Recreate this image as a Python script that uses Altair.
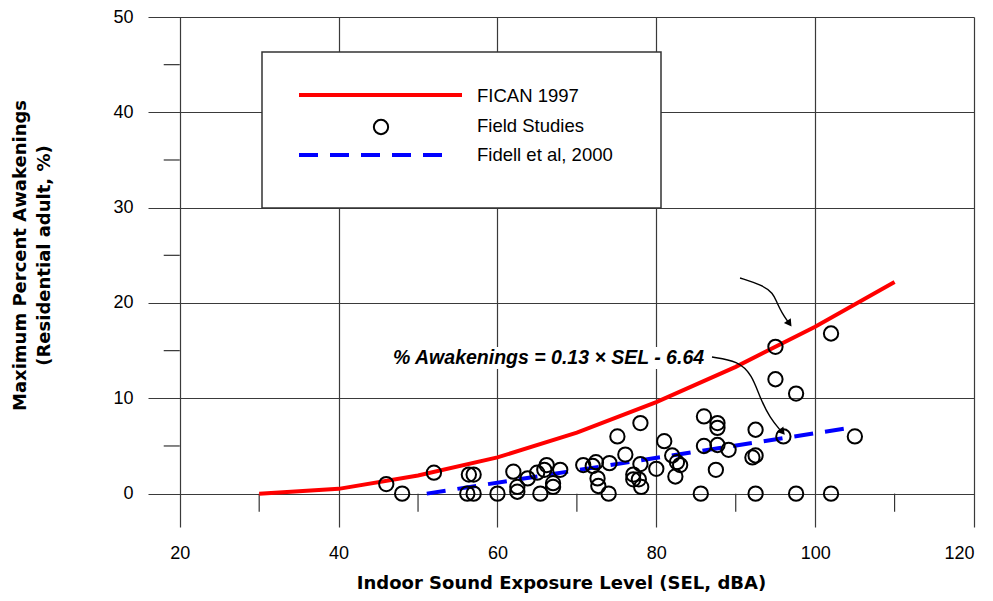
import altair as alt
import pandas as pd

# ---- data ----
fican_sel = [30, 40, 50, 60, 70, 80, 90, 100, 110]
fican_pct = [0.0, 0.5, 1.9, 3.8, 6.4, 9.6, 13.3, 17.5, 22.2]

fidell_sel = [51.1, 104.7]
fidell_pct = [0.0, 6.95]

field_sel = [46.0, 48.0, 52.0, 56.4, 57.0, 56.2, 57.0, 60.0, 62.0, 62.5,
             62.5, 63.8, 65.0, 66.2, 65.9, 65.4, 67.0, 67.0, 67.9, 70.8,
             72.0, 72.4, 72.6, 72.7, 74.0, 74.1, 75.1, 76.1, 77.1, 77.1,
             78.0, 78.0, 77.8, 78.1, 80.0, 81.0, 82.0, 82.6, 83.0, 82.4,
             86.0, 87.7, 87.7, 86.0, 87.7, 89.1, 87.5, 85.6, 92.5, 92.1,
             92.5, 92.5, 95.0, 95.0, 97.6, 96.0, 97.6, 102.0, 102.0, 105.0]
field_pct = [1.0, 0.0, 2.2, 2.0, 2.0, 0.0, 0.0, 0.0, 2.3, 0.7,
             0.2, 1.6, 2.2, 3.0, 2.5, 0.0, 0.7, 1.1, 2.5, 3.0,
             2.9, 3.3, 1.6, 0.8, 0.0, 3.2, 6.0, 4.1, 2.0, 1.5,
             7.4, 3.1, 1.5, 0.7, 2.6, 5.5, 4.0, 3.3, 3.0, 1.8,
             8.1, 7.4, 6.9, 5.0, 5.1, 4.6, 2.5, 0.0, 6.7, 3.8,
             4.0, 0.0, 15.4, 12.0, 10.5, 6.0, 0.0, 16.8, 0.0, 6.0]

x_major = [20, 40, 60, 80, 100, 120]
x_minor = [30, 50, 70, 90, 110]
y_major = [0, 10, 20, 30, 40, 50]
y_minor = [5, 15, 25, 35, 45]

# annotation arrow paths (data coordinates)
arrow1_sel = [90.54, 93.31, 94.70, 95.20, 95.83, 96.59]
arrow1_pct = [22.62, 21.89, 21.05, 20.0, 18.95, 18.01]
arrow2_sel = [87.01, 90.29, 92.05, 93.06, 94.32, 95.70]
arrow2_pct = [14.33, 13.91, 12.45, 10.03, 7.94, 6.57]
head_sel = [96.76, 95.88]
head_pct = [17.84, 6.46]
head_angle = [325, 320]

legend_labels = ["FICAN 1997", "Field Studies", "Fidell et al, 2000"]
equation = "% Awakenings = 0.13 \u00d7 SEL - 6.64"

# ---- tables ----
fican = pd.DataFrame({"sel": fican_sel, "pct": fican_pct})
fidell = pd.DataFrame({"sel": fidell_sel, "pct": fidell_pct})
field = pd.DataFrame({"sel": field_sel, "pct": field_pct})
xminor = pd.DataFrame({"sel": x_minor, "pct": [0.0] * len(x_minor), "pct2": [-1.9] * len(x_minor)})
yminor = pd.DataFrame({"pct": y_minor, "sel": [17.98] * len(y_minor), "sel2": [20.0] * len(y_minor)})
arrows = pd.DataFrame({
    "sel": arrow1_sel + arrow2_sel,
    "pct": arrow1_pct + arrow2_pct,
    "arrow": ["a"] * len(arrow1_sel) + ["b"] * len(arrow2_sel),
    "order": list(range(len(arrow1_sel))) + list(range(len(arrow2_sel))),
})
heads = pd.DataFrame({"sel": head_sel, "pct": head_pct, "ang": head_angle})
one = pd.DataFrame({"k": [0]})

LABEL_FONT = "Liberation Sans"
TITLE_FONT = "DejaVu Sans"

X = alt.X("sel:Q",
          scale=alt.Scale(domain=[16, 120], nice=False, zero=False),
          axis=alt.Axis(values=x_major, grid=True, domain=False, ticks=False,
                        labelPadding=17, labelFontSize=18, labelFont=LABEL_FONT,
                        labelColor="black",
                        title="Indoor Sound Exposure Level (SEL, dBA)",
                        titleFont=TITLE_FONT, titleFontSize=18, titleFontWeight="bold",
                        titlePadding=12, titleColor="black"))
Y = alt.Y("pct:Q",
          scale=alt.Scale(domain=[-3.5, 50], nice=False, zero=False),
          axis=alt.Axis(values=y_major, grid=True, domain=False, ticks=False,
                        labelPadding=15, labelFontSize=18, labelFont=LABEL_FONT,
                        labelColor="black",
                        title=["Maximum Percent Awakenings", "(Residential adult, %)"],
                        titleFont=TITLE_FONT, titleFontSize=18, titleFontWeight="bold",
                        titleColor="black", titleAngle=270, titleAlign="center",
                        titleBaseline="top", titleX=-137, titleY=238,
                        titleLineHeight=24))

xminor_l = alt.Chart(xminor).mark_rule(color="#333", strokeWidth=1.2).encode(
    x=X, y=Y, y2="pct2:Q")
yminor_l = alt.Chart(yminor).mark_rule(color="#333", strokeWidth=1.2).encode(
    y=Y, x=X, x2="sel2:Q")

legend_box = alt.Chart(one).mark_rect(fill="white", stroke="#333", strokeWidth=1.5).encode(
    x=alt.value(114), x2=alt.value(513), y=alt.value(35), y2=alt.value(191))
eq_bg = alt.Chart(one).mark_rect(fill="white").encode(
    x=alt.value(242), x2=alt.value(566), y=alt.value(330), y2=alt.value(352))

fican_l = alt.Chart(fican).mark_line(color="#ff0000", strokeWidth=4).encode(x=X, y=Y)
fidell_l = alt.Chart(fidell).mark_line(color="#0000ff", strokeWidth=4,
                                        strokeDash=[19, 12]).encode(x=X, y=Y)
field_l = alt.Chart(field).mark_point(shape="circle", filled=False, color="black",
                                      size=205, strokeWidth=2, opacity=1).encode(x=X, y=Y)

arrow_l = alt.Chart(arrows).mark_line(color="black", strokeWidth=1.4,
                                      interpolate="basis").encode(
    x=X, y=Y, detail="arrow:N", order="order:Q")
head_l = alt.Chart(heads).mark_point(shape="triangle-down", filled=True, color="black",
                                     size=70, opacity=1).encode(
    x=X, y=Y, angle=alt.Angle("ang:Q", scale=None))

eq_text = alt.Chart(one).mark_text(text=equation, font=LABEL_FONT, fontSize=19.5,
                                    fontWeight="bold", fontStyle="italic", align="left",
                                    baseline="middle", color="black").encode(
    x=alt.value(245), y=alt.value(341))

leg_red = alt.Chart(one).mark_rule(color="#ff0000", strokeWidth=4).encode(
    x=alt.value(151), x2=alt.value(314), y=alt.value(78))
leg_circle = alt.Chart(one).mark_point(shape="circle", filled=False, color="black",
                                       size=205, strokeWidth=2, opacity=1).encode(
    x=alt.value(233), y=alt.value(110))
leg_blue = alt.Chart(one).mark_rule(color="#0000ff", strokeWidth=4,
                                    strokeDash=[19, 12]).encode(
    x=alt.value(151), x2=alt.value(299), y=alt.value(138))
leg_t = [
    alt.Chart(one).mark_text(text=t, font=LABEL_FONT, fontSize=18.5, align="left",
                             baseline="middle", color="black").encode(
        x=alt.value(329), y=alt.value(yy))
    for t, yy in zip(legend_labels, [79, 109, 138])
]

chart = alt.layer(
    xminor_l, yminor_l, legend_box, eq_bg, fican_l, fidell_l, field_l,
    arrow_l, head_l, eq_text, leg_red, leg_circle, leg_blue, *leg_t
).properties(
    width=826, height=510,
    padding={"left": 140, "top": 9, "right": 10, "bottom": 70},
    autosize=alt.AutoSizeParams(type="none"),
).configure_view(stroke=None).configure_axis(
    gridColor="#3a3a3a", gridWidth=1.2, gridOpacity=1
)

chart.save("out.html", embed_options={"renderer": "svg", "actions": False})
